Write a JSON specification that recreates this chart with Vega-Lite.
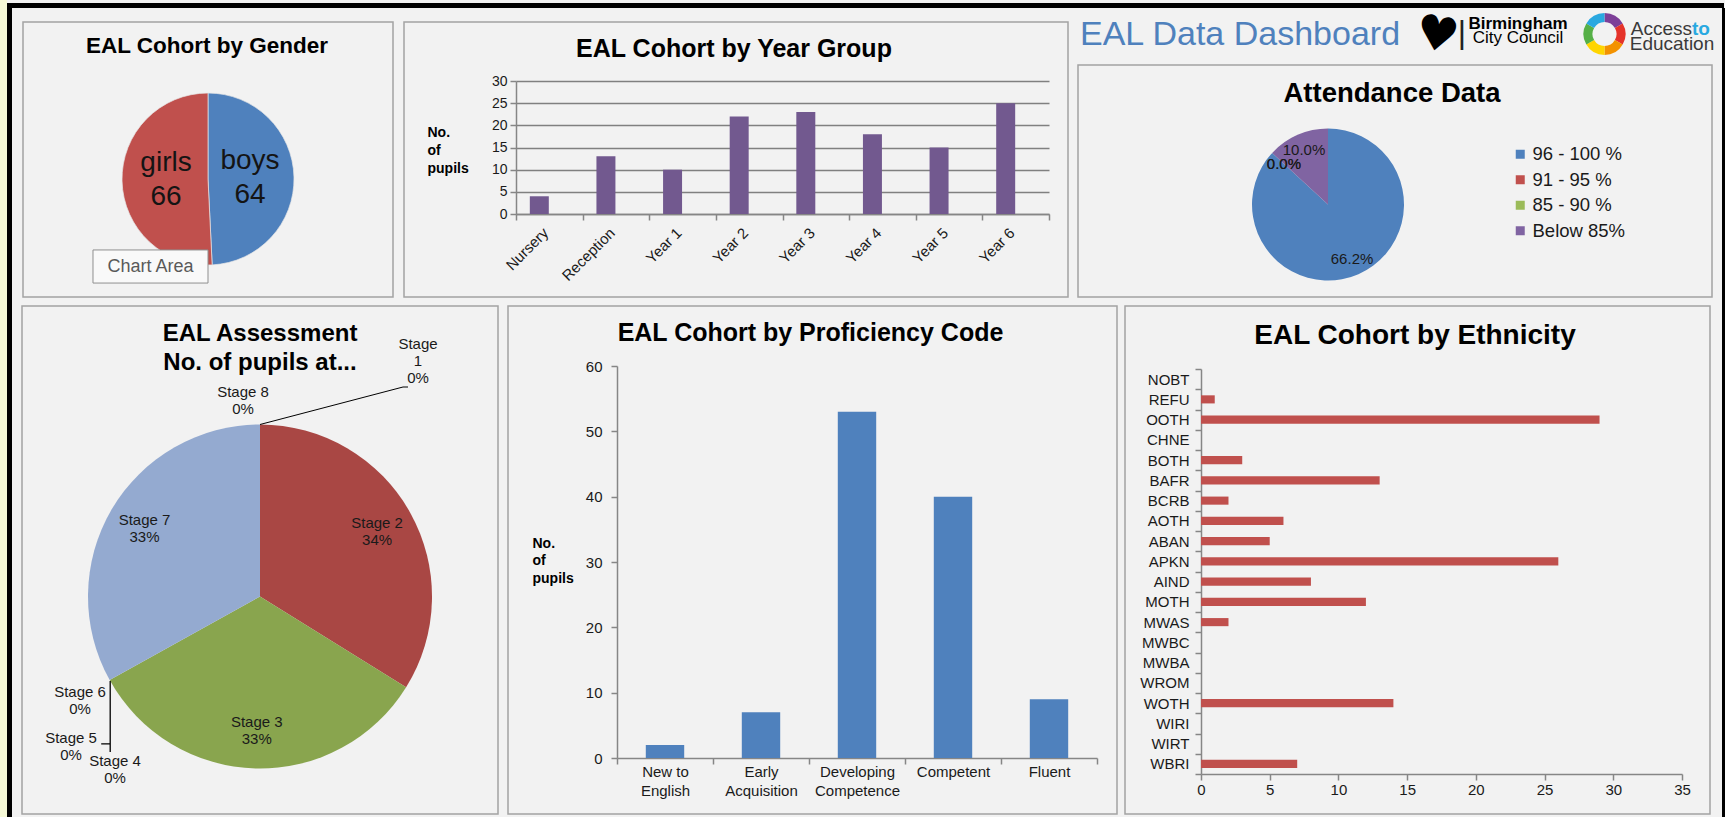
{
  "$schema": "https://vega.github.io/schema/vega-lite/v6.json",
  "background": "#f2f2f2",
  "padding": 0,
  "spacing": 0,
  "resolve": {"scale": {"color": "independent", "theta": "independent", "x": "independent", "y": "independent"}, "legend": {"color": "independent"}},
  "config": {
    "font": "Liberation Sans",
    "view": {"stroke": null},
    "concat": {"spacing": 0},
    "axis": {"labelFont": "Liberation Sans", "titleFont": "Liberation Sans", "domainColor": "#868686", "tickColor": "#868686", "domainWidth": 1.5, "tickWidth": 1.5, "labelColor": "#1a1a1a", "titleColor": "#000000", "labelOverlap": false, "labelFlush": false, "grid": false},
    "legend": {"labelFont": "Liberation Sans"},
    "text": {"font": "Liberation Sans"}
  },
  "hconcat": [
    {"width": 7, "height": 817, "data": {"values": []}, "mark": "point", "view": {"fill": "#f5f8d6", "stroke": null}},
    {
      "spacing": 0,
      "resolve": {"scale": {"color": "independent", "theta": "independent", "x": "independent", "y": "independent"}, "legend": {"color": "independent"}},
      "vconcat": [
        {"width": 1717, "height": 3, "data": {"values": []}, "mark": "point"},
        {"width": 1717, "height": 5, "data": {"values": []}, "mark": "point", "view": {"fill": "#000000", "stroke": null}},
        {
          "spacing": 0,
          "resolve": {"scale": {"color": "independent", "theta": "independent", "x": "independent", "y": "independent"}, "legend": {"color": "independent"}},
          "hconcat": [
            {"width": 5, "height": 809, "data": {"values": []}, "mark": "point", "view": {"fill": "#000000", "stroke": null}},
            {
              "spacing": 0,
              "resolve": {"scale": {"color": "independent", "theta": "independent", "x": "independent", "y": "independent"}, "legend": {"color": "independent"}},
              "vconcat": [
                {
                  "spacing": 0,
                  "resolve": {"scale": {"color": "independent", "theta": "independent", "x": "independent", "y": "independent"}, "legend": {"color": "independent"}},
                  "hconcat": [
                    {"width": 9.25, "height": 1, "data": {"values": []}, "mark": "point"},
                    {
                      "spacing": 0, "bounds": "flush",
                      "resolve": {"scale": {"color": "independent", "theta": "independent", "x": "independent", "y": "independent"}, "legend": {"color": "independent"}},
                      "vconcat": [
                        {"width": 1, "height": 14, "data": {"values": []}, "mark": "point"},
                        {
                          "width": 370, "height": 275,
                          "view": {"stroke": "#a3a3a3", "strokeWidth": 1.5},
                          "data": {"values": [
                            {"gender": "boys", "pupils": 64, "order": 1, "label": "boys\n64"},
                            {"gender": "girls", "pupils": 66, "order": 2, "label": "girls\n66"}
                          ]},
                          "layer": [
                            {
                              "mark": {"type": "arc", "radius": 86, "yOffset": 19.5, "stroke": "#e6e6e6", "strokeWidth": 0.7},
                              "encoding": {
                                "theta": {"field": "pupils", "type": "quantitative", "stack": true},
                                "order": {"field": "order", "type": "quantitative"},
                                "color": {"field": "gender", "type": "nominal", "scale": {"domain": ["boys", "girls"], "range": ["#4f81bd", "#c0504d"]}, "legend": null}
                              }
                            },
                            {
                              "mark": {"type": "text", "radius": 42, "yOffset": 19.5, "dy": -17, "fontSize": 28, "lineBreak": "\n", "lineHeight": 34, "fill": "#141414"},
                              "encoding": {
                                "theta": {"field": "pupils", "type": "quantitative", "stack": true},
                                "order": {"field": "order", "type": "quantitative"},
                                "detail": {"field": "gender", "type": "nominal"},
                                "text": {"field": "label", "type": "nominal"}
                              }
                            },
                            {
                              "data": {"values": [{"title": "EAL Cohort by Gender"}]},
                              "mark": {"type": "text", "fontSize": 22.5, "fontWeight": "bold", "fill": "#000000", "baseline": "alphabetic", "align": "center", "xOffset": -1, "yOffset": -106.5},
                              "encoding": {"text": {"field": "title", "type": "nominal"}}
                            },
                            {
                              "data": {"values": [{"tip": "Chart Area"}]},
                              "mark": {"type": "point", "shape": "M-4,-1.15L4,-1.15L4,1.15L-4,1.15Z", "size": 826.6, "filled": true, "fill": "#f9f9f9", "stroke": "#8f8f8f", "strokeWidth": 1, "opacity": 1, "xOffset": -57.5, "yOffset": 107},
                              "encoding": {}
                            },
                            {
                              "data": {"values": [{"tip": "Chart Area"}]},
                              "mark": {"type": "text", "fontSize": 18, "fill": "#595959", "xOffset": -57.5, "yOffset": 107},
                              "encoding": {"text": {"field": "tip", "type": "nominal"}}
                            }
                          ]
                        }
                      ]
                    },
                    {"width": 3.3, "height": 1, "data": {"values": []}, "mark": "point"},
                    {
                      "spacing": 0, "bounds": "flush",
                      "resolve": {"scale": {"color": "independent", "theta": "independent", "x": "independent", "y": "independent"}, "legend": {"color": "independent"}},
                      "vconcat": [
                        {"width": 1, "height": 14, "data": {"values": []}, "mark": "point"},
                        {
                          "width": 664, "height": 275,
                          "view": {"stroke": "#a3a3a3", "strokeWidth": 1.5},
                          "data": {"values": [
                            {"year": "Nursery", "pupils": 4},
                            {"year": "Reception", "pupils": 13},
                            {"year": "Year 1", "pupils": 10},
                            {"year": "Year 2", "pupils": 22},
                            {"year": "Year 3", "pupils": 23},
                            {"year": "Year 4", "pupils": 18},
                            {"year": "Year 5", "pupils": 15},
                            {"year": "Year 6", "pupils": 25}
                          ]},
                          "layer": [
                            {
                              "mark": {"type": "bar", "color": "#72598f", "width": {"band": 0.285}, "xOffset": -10},
                              "encoding": {
                                "x": {"field": "year", "type": "nominal", "sort": null,
                                  "scale": {"range": [112, 645], "paddingInner": 0, "paddingOuter": 0},
                                  "axis": {"title": null, "offset": -83, "tickBand": "extent", "labelAngle": -45, "labelAlign": "right", "labelBaseline": "middle", "labelFontSize": 15, "tickSize": 6, "labelPadding": 10, "labelOffset": -4}},
                                "y": {"field": "pupils", "type": "quantitative",
                                  "scale": {"domain": [0, 30], "range": [192, 59], "nice": false},
                                  "axis": {"offset": -112, "values": [0, 5, 10, 15, 20, 25, 30], "grid": true, "gridColor": "#808080", "gridWidth": 1.5, "tickSize": 6, "labelFontSize": 14, "labelPadding": 3,
                                    "title": ["No.", "of", "pupils"], "titleAngle": 0, "titleAlign": "left", "titleBaseline": "middle", "titleX": -89, "titleY": 110, "titleFontSize": 14, "titleFontWeight": "bold", "titleLineHeight": 18}}
                              }
                            },
                            {
                              "data": {"values": [{"title": "EAL Cohort by Year Group"}]},
                              "mark": {"type": "text", "fontSize": 25, "fontWeight": "bold", "fill": "#000000", "baseline": "alphabetic", "align": "center", "xOffset": -2, "yOffset": -102.5},
                              "encoding": {"text": {"field": "title", "type": "nominal"}}
                            }
                          ]
                        }
                      ]
                    },
                    {"width": 7.9, "height": 1, "data": {"values": []}, "mark": "point"},
                    {
                      "spacing": 0,
                      "resolve": {"scale": {"color": "independent", "theta": "independent", "x": "independent", "y": "independent"}, "legend": {"color": "independent"}},
                      "vconcat": [
                        {
                          "spacing": 0, "bounds": "flush",
                          "resolve": {"scale": {"color": "independent", "theta": "independent", "x": "independent", "y": "independent"}, "legend": {"color": "independent"}},
                          "hconcat": [
                            {"width": 339, "height": 55, "data": {"values": [{"title": "EAL Data Dashboard"}]},
                              "mark": {"type": "text", "fontSize": 34, "fill": "#4f81bd", "baseline": "alphabetic", "align": "left", "xOffset": -167.5, "yOffset": 9.5},
                              "encoding": {"text": {"field": "title", "type": "nominal"}}},
                            {"width": 40, "height": 55, "data": {"values": [{"logo": "♥"}]},
                              "mark": {"type": "text", "font": "DejaVu Sans", "fontSize": 48, "fill": "#000000", "dy": 1, "angle": 10},
                              "encoding": {"text": {"field": "logo", "type": "nominal"}}},
                            {"width": 128, "height": 55, "data": {"values": [{"line1": "Birmingham", "line2": "City Council", "bar": "|"}]},
                              "layer": [
                                {"mark": {"type": "text", "fontSize": 17, "fontWeight": "bold", "fill": "#000000", "dy": -11.5, "dx": -3}, "encoding": {"text": {"field": "line1", "type": "nominal"}}},
                                {"mark": {"type": "text", "fontSize": 17, "fill": "#000000", "dy": 2, "dx": -3}, "encoding": {"text": {"field": "line2", "type": "nominal"}}},
                                {"mark": {"type": "text", "fontSize": 32, "fill": "#222222", "dx": -59, "dy": -3}, "encoding": {"text": {"field": "bar", "type": "nominal"}}}
                              ]},
                            {"width": 39, "height": 55, "data": {"values": [
                                {"seg": "a", "w": 1, "o": 1}, {"seg": "b", "w": 1, "o": 2}, {"seg": "c", "w": 1, "o": 3},
                                {"seg": "d", "w": 1, "o": 4}, {"seg": "e", "w": 1, "o": 5}, {"seg": "f", "w": 1, "o": 6}
                              ]},
                              "mark": {"type": "arc", "radius": 21, "radius2": 12, "yOffset": -1.5},
                              "encoding": {
                                "theta": {"field": "w", "type": "quantitative", "stack": true},
                                "order": {"field": "o", "type": "quantitative"},
                                "color": {"field": "seg", "type": "nominal", "scale": {"domain": ["a", "b", "c", "d", "e", "f"], "range": ["#7d3f98", "#e5332a", "#f39200", "#ffd500", "#56b047", "#2aa8e0"]}, "legend": null}
                              }},
                            {"width": 96, "height": 55, "data": {"values": [{"a": "Access", "b": "to", "c": "Education"}]},
                              "layer": [
                                {"mark": {"type": "text", "fontSize": 19, "fill": "#3a3a3a", "align": "right", "dx": 20, "dy": -6.5}, "encoding": {"text": {"field": "a", "type": "nominal"}}},
                                {"mark": {"type": "text", "fontSize": 19, "fill": "#29a9e1", "align": "left", "dx": 20, "dy": -6.5, "fontWeight": "bold"}, "encoding": {"text": {"field": "b", "type": "nominal"}}},
                                {"mark": {"type": "text", "fontSize": 19, "fill": "#3a3a3a", "dy": 8.5}, "encoding": {"text": {"field": "c", "type": "nominal"}}}
                              ]}
                          ]
                        },
                        {
                          "width": 634, "height": 232,
                          "view": {"stroke": "#a3a3a3", "strokeWidth": 1.5},
                          "data": {"values": [
                            {"band": "96 - 100 %", "value": 66.2, "order": 1, "label": "66.2%"},
                            {"band": "91 - 95 %", "value": 0, "order": 2, "label": "0.0%"},
                            {"band": "85 - 90 %", "value": 0, "order": 3, "label": "0.0%"},
                            {"band": "Below 85%", "value": 10, "order": 4, "label": "10.0%"}
                          ]},
                          "layer": [
                            {
                              "mark": {"type": "arc", "radius": 76, "xOffset": -67, "yOffset": 23.5},
                              "encoding": {
                                "theta": {"field": "value", "type": "quantitative", "stack": true},
                                "order": {"field": "order", "type": "quantitative"},
                                "color": {"field": "band", "type": "nominal", "sort": null,
                                  "scale": {"domain": ["96 - 100 %", "91 - 95 %", "85 - 90 %", "Below 85%"], "range": ["#4f81bd", "#c0504d", "#9bbb59", "#8064a2"]},
                                  "legend": {"orient": "none", "legendX": 433, "legendY": 80, "title": null, "symbolType": "square", "symbolSize": 81, "symbolStrokeWidth": 0, "labelFontSize": 18.5, "labelColor": "#1a1a1a", "rowPadding": 6.5, "labelOffset": 3, "padding": 0}}
                              }
                            },
                            {
                              "mark": {"type": "text", "radius": 60, "xOffset": -67, "yOffset": 23.5, "fontSize": 15, "fill": "#1a1a1a"},
                              "encoding": {
                                "theta": {"field": "value", "type": "quantitative", "stack": true},
                                "order": {"field": "order", "type": "quantitative"},
                                "detail": {"field": "band", "type": "nominal"},
                                "text": {"field": "label", "type": "nominal"}
                              }
                            },
                            {
                              "data": {"values": [{"title": "Attendance  Data"}]},
                              "mark": {"type": "text", "fontSize": 27.5, "fontWeight": "bold", "fill": "#000000", "baseline": "alphabetic", "align": "center", "xOffset": -3, "yOffset": -79},
                              "encoding": {"text": {"field": "title", "type": "nominal"}}
                            }
                          ]
                        }
                      ]
                    }
                  ]
                },
                {
                  "spacing": 0, "bounds": "flush",
                  "resolve": {"scale": {"color": "independent", "theta": "independent", "x": "independent", "y": "independent"}, "legend": {"color": "independent"}},
                  "hconcat": [
                    {"width": 10, "height": 1, "data": {"values": []}, "mark": "point"},
                    {
                      "width": 476, "height": 508,
                      "view": {"stroke": "#a3a3a3", "strokeWidth": 1.5},
                      "data": {"values": [
                        {"stage": "Stage 1", "pupils": 0, "order": 1, "label": "Stage\n1\n0%"},
                        {"stage": "Stage 2", "pupils": 44, "order": 2, "label": "Stage 2\n34%"},
                        {"stage": "Stage 3", "pupils": 43, "order": 3, "label": "Stage 3\n33%"},
                        {"stage": "Stage 4", "pupils": 0, "order": 4, "label": "Stage 4\n0%"},
                        {"stage": "Stage 5", "pupils": 0, "order": 5, "label": "Stage 5\n0%"},
                        {"stage": "Stage 6", "pupils": 0, "order": 6, "label": "Stage 6\n0%"},
                        {"stage": "Stage 7", "pupils": 43, "order": 7, "label": "Stage 7\n33%"},
                        {"stage": "Stage 8", "pupils": 0, "order": 8, "label": "Stage 8\n0%"}
                      ]},
                      "layer": [
                        {
                          "mark": {"type": "arc", "radius": 172, "yOffset": 36.5},
                          "encoding": {
                            "theta": {"field": "pupils", "type": "quantitative", "stack": true},
                            "order": {"field": "order", "type": "quantitative"},
                            "color": {"field": "stage", "type": "nominal", "sort": null,
                              "scale": {"domain": ["Stage 1", "Stage 2", "Stage 3", "Stage 4", "Stage 5", "Stage 6", "Stage 7", "Stage 8"], "range": ["#4572a7", "#a94744", "#89a54e", "#71588f", "#4198af", "#db843d", "#94aad0", "#a47d7c"]},
                              "legend": null}
                          }
                        },
                        {
                          "transform": [{"filter": "datum.pupils > 0"}],
                          "mark": {"type": "text", "radius": 134, "yOffset": 36.5, "dy": -8.5, "fontSize": 15, "lineBreak": "\n", "lineHeight": 17, "fill": "#1a1a1a"},
                          "encoding": {
                            "theta": {"field": "pupils", "type": "quantitative", "stack": true},
                            "order": {"field": "order", "type": "quantitative"},
                            "detail": {"field": "stage", "type": "nominal"},
                            "text": {"field": "label", "type": "nominal"}
                          }
                        },
                        {"transform": [{"filter": "datum.stage == 'Stage 8'"}], "mark": {"type": "text", "xOffset": -17, "yOffset": -168, "fontSize": 15, "lineBreak": "\n", "lineHeight": 17, "fill": "#1a1a1a"}, "encoding": {"text": {"field": "label", "type": "nominal"}}},
                        {"transform": [{"filter": "datum.stage == 'Stage 1'"}], "mark": {"type": "text", "xOffset": 158, "yOffset": -216, "fontSize": 15, "lineBreak": "\n", "lineHeight": 17, "fill": "#1a1a1a"}, "encoding": {"text": {"field": "label", "type": "nominal"}}},
                        {"transform": [{"filter": "datum.stage == 'Stage 6'"}], "mark": {"type": "text", "xOffset": -180, "yOffset": 132, "fontSize": 15, "lineBreak": "\n", "lineHeight": 17, "fill": "#1a1a1a"}, "encoding": {"text": {"field": "label", "type": "nominal"}}},
                        {"transform": [{"filter": "datum.stage == 'Stage 5'"}], "mark": {"type": "text", "xOffset": -189, "yOffset": 177.5, "fontSize": 15, "lineBreak": "\n", "lineHeight": 17, "fill": "#1a1a1a"}, "encoding": {"text": {"field": "label", "type": "nominal"}}},
                        {"transform": [{"filter": "datum.stage == 'Stage 4'"}], "mark": {"type": "text", "xOffset": -145, "yOffset": 200.5, "fontSize": 15, "lineBreak": "\n", "lineHeight": 17, "fill": "#1a1a1a"}, "encoding": {"text": {"field": "label", "type": "nominal"}}},
                        {
                          "data": {"values": [{"leader": "Stage 1"}]},
                          "mark": {"type": "point", "shape": "M0,0L143,-37.5L148,-37.5", "size": 4, "filled": false, "fill": null, "stroke": "#000000", "strokeWidth": 1, "opacity": 1, "xOffset": 0, "yOffset": -135.5},
                          "encoding": {}
                        },
                        {
                          "data": {"values": [{"leader": "Stages 4-6"}]},
                          "mark": {"type": "point", "shape": "M0,0L0,71M-9,63L0,63", "size": 4, "filled": false, "fill": null, "stroke": "#000000", "strokeWidth": 1.3, "opacity": 1, "xOffset": -149.8, "yOffset": 120.9},
                          "encoding": {}
                        },
                        {
                          "data": {"values": [{"title": "EAL  Assessment"}]},
                          "mark": {"type": "text", "fontSize": 24, "fontWeight": "bold", "fill": "#000000", "baseline": "alphabetic", "align": "center", "yOffset": -219},
                          "encoding": {"text": {"field": "title", "type": "nominal"}}
                        },
                        {
                          "data": {"values": [{"title": "No. of pupils at..."}]},
                          "mark": {"type": "text", "fontSize": 24, "fontWeight": "bold", "fill": "#000000", "baseline": "alphabetic", "align": "center", "yOffset": -190},
                          "encoding": {"text": {"field": "title", "type": "nominal"}}
                        }
                      ]
                    },
                    {"width": 10, "height": 1, "data": {"values": []}, "mark": "point"},
                    {
                      "width": 609, "height": 508,
                      "view": {"stroke": "#a3a3a3", "strokeWidth": 1.5},
                      "data": {"values": [
                        {"code": "New to English", "pupils": 2},
                        {"code": "Early Acquisition", "pupils": 7},
                        {"code": "Developing Competence", "pupils": 53},
                        {"code": "Competent", "pupils": 40},
                        {"code": "Fluent", "pupils": 9}
                      ]},
                      "layer": [
                        {
                          "mark": {"type": "bar", "color": "#4f81bd", "width": {"band": 0.4}},
                          "encoding": {
                            "x": {"field": "code", "type": "nominal", "sort": null,
                              "scale": {"range": [109, 589], "paddingInner": 0, "paddingOuter": 0},
                              "axis": {"title": null, "offset": -56, "tickBand": "extent", "labelAngle": 0, "labelFontSize": 15, "labelLineHeight": 19, "labelBaseline": "top", "tickSize": 6, "labelPadding": 0,
                                "labelExpr": "datum.value == 'New to English' ? ['New to', 'English'] : datum.value == 'Early Acquisition' ? ['Early', 'Acquisition'] : datum.value == 'Developing Competence' ? ['Developing', 'Competence'] : datum.value"}},
                            "y": {"field": "pupils", "type": "quantitative",
                              "scale": {"domain": [0, 60], "range": [452, 60], "nice": false},
                              "axis": {"offset": -109, "values": [0, 10, 20, 30, 40, 50, 60], "tickSize": 6, "labelPadding": 9, "labelFontSize": 15,
                                "title": ["No.", "of", "pupils"], "titleAngle": 0, "titleAlign": "left", "titleBaseline": "middle", "titleX": -85, "titleY": 237, "titleFontSize": 14, "titleFontWeight": "bold", "titleLineHeight": 17.5}}
                          }
                        },
                        {
                          "data": {"values": [{"title": "EAL  Cohort by Proficiency  Code"}]},
                          "mark": {"type": "text", "fontSize": 25, "fontWeight": "bold", "fill": "#000000", "baseline": "alphabetic", "align": "center", "xOffset": -2, "yOffset": -219},
                          "encoding": {"text": {"field": "title", "type": "nominal"}}
                        }
                      ]
                    },
                    {"width": 8, "height": 1, "data": {"values": []}, "mark": "point"},
                    {
                      "width": 585, "height": 508,
                      "view": {"stroke": "#a3a3a3", "strokeWidth": 1.5},
                      "data": {"values": [
                        {"ethnicity": "NOBT", "pupils": 0},
                        {"ethnicity": "REFU", "pupils": 1},
                        {"ethnicity": "OOTH", "pupils": 29},
                        {"ethnicity": "CHNE", "pupils": 0},
                        {"ethnicity": "BOTH", "pupils": 3},
                        {"ethnicity": "BAFR", "pupils": 13},
                        {"ethnicity": "BCRB", "pupils": 2},
                        {"ethnicity": "AOTH", "pupils": 6},
                        {"ethnicity": "ABAN", "pupils": 5},
                        {"ethnicity": "APKN", "pupils": 26},
                        {"ethnicity": "AIND", "pupils": 8},
                        {"ethnicity": "MOTH", "pupils": 12},
                        {"ethnicity": "MWAS", "pupils": 2},
                        {"ethnicity": "MWBC", "pupils": 0},
                        {"ethnicity": "MWBA", "pupils": 0},
                        {"ethnicity": "WROM", "pupils": 0},
                        {"ethnicity": "WOTH", "pupils": 14},
                        {"ethnicity": "WIRI", "pupils": 0},
                        {"ethnicity": "WIRT", "pupils": 0},
                        {"ethnicity": "WBRI", "pupils": 7}
                      ]},
                      "layer": [
                        {
                          "mark": {"type": "bar", "color": "#c0504d", "height": {"band": 0.4}},
                          "encoding": {
                            "y": {"field": "ethnicity", "type": "nominal", "sort": null,
                              "scale": {"range": [63, 468], "paddingInner": 0, "paddingOuter": 0},
                              "axis": {"title": null, "offset": -76, "tickBand": "extent", "tickSize": 6, "labelPadding": 6, "labelFontSize": 15}},
                            "x": {"field": "pupils", "type": "quantitative",
                              "scale": {"domain": [0, 35], "range": [76, 557], "nice": false},
                              "axis": {"title": null, "offset": -40, "values": [0, 5, 10, 15, 20, 25, 30, 35], "tickSize": 6, "labelPadding": 2, "labelFontSize": 15}}
                          }
                        },
                        {
                          "data": {"values": [{"title": "EAL  Cohort by  Ethnicity"}]},
                          "mark": {"type": "text", "fontSize": 28, "fontWeight": "bold", "fill": "#000000", "baseline": "alphabetic", "align": "center", "xOffset": -2.5, "yOffset": -216},
                          "encoding": {"text": {"field": "title", "type": "nominal"}}
                        }
                      ]
                    }
                  ]
                }
              ]
            },
            {"width": 2, "height": 1, "data": {"values": []}, "mark": "point"},
            {"width": 4, "height": 809, "data": {"values": []}, "mark": "point", "view": {"fill": "#000000", "stroke": null}}
          ]
        }
      ]
    }
  ]
}
